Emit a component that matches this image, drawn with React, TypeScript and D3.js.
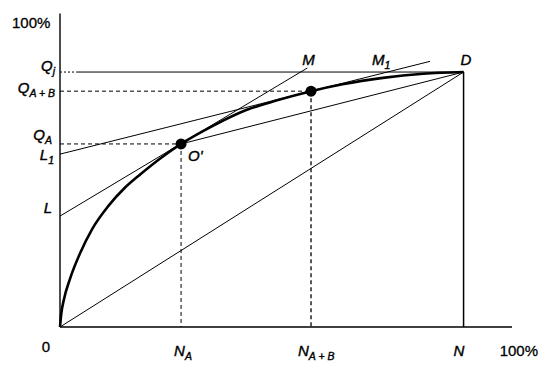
import React from "react";
import * as d3 from "d3";

// Concentration curve (x: share of units N, y: share of quantity Q)
const curveX = [0, 0.3, 1, 2.5, 5, 8, 12, 16, 20, 25, 30, 38, 46, 54, 62.2, 70, 80, 90, 100];
const curveY = [0, 5, 11, 19, 29, 38.5, 47.5, 54.5, 60, 66.3, 71.8, 79, 85, 89, 92.5, 95.2, 97.7, 99.3, 100];

const pointA = [30, 71.8];      // O'
const pointAB = [62.2, 92.5];   // N_A+B, Q_A+B
const Lval = 43.5;
const L1val = 67.8;
const Mend = [61.3, 101.6];
const M1end = [91.7, 104.2];

const W = 550, H = 369;

export default function App() {
  const x = d3.scaleLinear().domain([0, 112]).range([60, 512]);
  const y = d3.scaleLinear().domain([0, 123]).range([327, 13.4]);

  const pts: [number, number][] = curveX.map((v, i) => [x(v), y(curveY[i])]);
  const curvePath = d3.line().curve(d3.curveMonotoneX)(pts) || "";

  const font = "'Liberation Sans', Arial, sans-serif";
  const fs = 15;
  const sub = 10.5;

  const lbl = (px: number, py: number, main: string, s?: string, anchor = "start") => (
    <text x={px} y={py} fontFamily={font} fontSize={fs} fontStyle="italic" textAnchor={anchor} fill="#000" stroke="#000" strokeWidth={0.4}>
      {main}
      {s ? <tspan dy={4} fontSize={sub}>{s}</tspan> : null}
    </text>
  );

  const seg = (a: number[], b: number[], opts: any = {}) => (
    <line x1={x(a[0])} y1={y(a[1])} x2={x(b[0])} y2={y(b[1])} stroke="#000" strokeWidth={opts.w ?? 1} strokeDasharray={opts.dash} />
  );

  return (
    <svg width={W} height={H} style={{ position: "absolute", left: 0, top: 0, background: "#fff" }}>
      <rect width={W} height={H} fill="#fff" />
      {/* axes */}
      {seg([0, 0], [112, 0], { w: 1.3 })}
      {seg([0, 0], [0, 123], { w: 1.4 })}
      {/* top horizontal Qj -> D */}
      {seg([0, 100], [4, 100], { w: 1, dash: "2 2" })}
      {seg([4, 100], [100, 100], { w: 1 })}
      {/* vertical D -> N */}
      {seg([100, 100], [100, 0], { w: 1.5 })}
      {/* diagonal */}
      {seg([0, 0], [100, 100], { w: 1 })}
      {/* tangent L-M */}
      {seg([0, Lval], Mend, { w: 1 })}
      {/* tangent L1-M1 */}
      {seg([0, L1val], M1end, { w: 1 })}
      {/* chord O'-D */}
      {seg(pointA, [100, 100], { w: 1 })}
      {/* dashed guides */}
      {seg([0, pointA[1]], pointA, { dash: "4 3" })}
      {seg(pointA, [pointA[0], 0], { dash: "4 3" })}
      {seg([0, pointAB[1]], pointAB, { dash: "4 3" })}
      {seg(pointAB, [pointAB[0], 0], { dash: "4 3", w: 1.3 })}
      {/* curve */}
      <path d={curvePath} fill="none" stroke="#000" strokeWidth={2.6} />
      <circle cx={x(pointA[0])} cy={y(pointA[1])} r={5.5} fill="#000" />
      <circle cx={x(pointAB[0])} cy={y(pointAB[1])} r={5.5} fill="#000" />

      {/* labels */}
      <text x={12} y={28} fontFamily={font} fontSize={fs} fill="#000" stroke="#000" strokeWidth={0.3}>100%</text>
      <text x={538} y={356} fontFamily={font} fontSize={fs} textAnchor="end" fill="#000" stroke="#000" strokeWidth={0.3}>100%</text>
      <text x={x(0) - 14} y={352} fontFamily={font} fontSize={fs} textAnchor="middle" fill="#000" stroke="#000" strokeWidth={0.3}>0</text>
      {lbl(x(0) - 5, y(100) - 1, "Q", "j", "end")}
      {lbl(x(0) - 5, y(pointAB[1]) + 2, "Q", "A + B", "end")}
      {lbl(x(0) - 8, y(pointA[1]) - 4, "Q", "A", "end")}
      {lbl(x(0) - 6, y(L1val) + 6, "L", "1", "end")}
      {lbl(x(0) - 8, y(Lval) - 3, "L", undefined, "end")}
      {lbl(x(pointA[0]) + 7, y(pointA[1]) + 17, "O'")}
      {lbl(x(60) + 0, 65, "M")}
      {lbl(x(77.3), 65, "M", "1")}
      {lbl(x(100) - 3, 65, "D")}
      {lbl(x(pointA[0]) - 7, 356, "N", "A")}
      {lbl(x(pointAB[0]) - 13, 356, "N", "A + B")}
      {lbl(x(100) - 10, 356, "N")}
    </svg>
  );
}
